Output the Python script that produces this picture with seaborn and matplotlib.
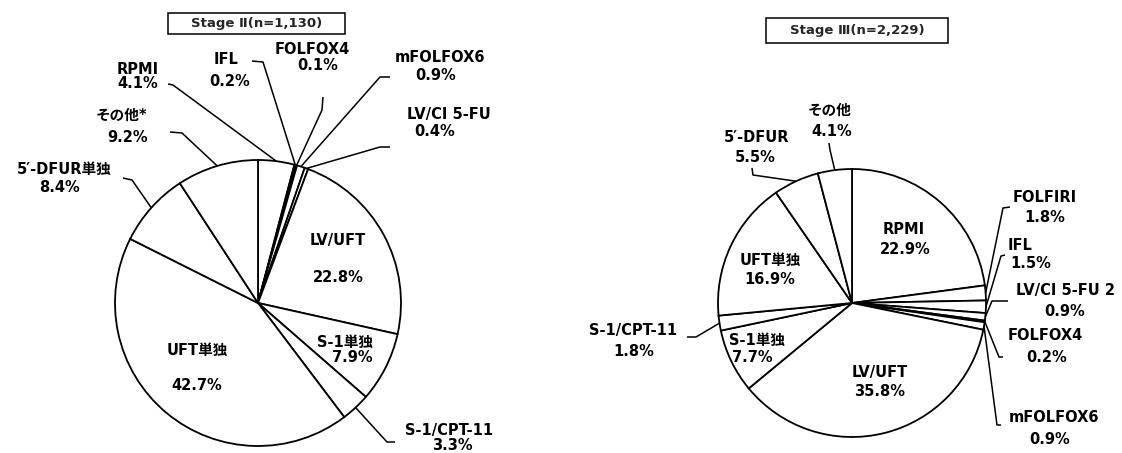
import matplotlib
matplotlib.use("Agg")
import matplotlib.pyplot as plt
from matplotlib.patches import Rectangle
import numpy as np
import pandas as pd
import seaborn as sns

# Regimen shares, listed clockwise from 12 o'clock
stage2_regimens = ["RPMI", "IFL", "FOLFOX4", "mFOLFOX6", "LV/CI 5-FU", "LV/UFT",
                   "S-1単独", "S-1/CPT-11", "UFT単独", "5′-DFUR単独", "その他*"]
stage2_pct = [4.1, 0.2, 0.1, 0.9, 0.4, 22.8, 7.9, 3.3, 42.7, 8.4, 9.2]

stage3_regimens = ["RPMI", "FOLFIRI", "IFL", "LV/CI 5-FU 2", "FOLFOX4", "mFOLFOX6",
                   "LV/UFT", "S-1単独", "S-1/CPT-11", "UFT単独", "5′-DFUR", "その他"]
stage3_pct = [22.9, 1.8, 1.5, 0.9, 0.2, 0.9, 35.8, 7.7, 1.8, 16.9, 5.5, 4.1]

panel_titles = ["Stage Ⅱ(n=1,130)", "Stage Ⅲ(n=2,229)"]

sns.set_theme(style="white")
# Latin text in DejaVu, Japanese falls through to Noto Sans CJK
plt.rcParams["font.family"] = ["DejaVu Sans", "Noto Sans CJK JP"]

W, H = 1122, 453
FS = 10.5

# Label placement in pixel space (y grows downward): centre of name line,
# centre of percentage line, and optional leader polyline start/elbow.
layout2 = {
    "RPMI":        dict(name=(138, 69), pct=(138, 83), lead=[(168, 84), (173, 85)]),
    "IFL":         dict(name=(226, 60), pct=(230, 81), lead=[(252, 61), (263, 62)]),
    "FOLFOX4":     dict(name=(312, 49), pct=(318, 66), lead=[(323, 97), (322, 110)]),
    "mFOLFOX6":    dict(name=(440, 58), pct=(436, 75), lead=[(390, 77), (380, 77)]),
    "LV/CI 5-FU":  dict(name=(449, 114), pct=(435, 131), lead=[(390, 147), (380, 147)]),
    "LV/UFT":      dict(name=(338, 240), pct=(338, 277)),
    "S-1単独":      dict(name=(345, 342), pct=(352, 357)),
    "S-1/CPT-11":  dict(name=(449, 430), pct=(452, 446), lead=[(395, 442), (387, 442)]),
    "UFT単独":      dict(name=(197, 350), pct=(197, 385)),
    "5′-DFUR単独":  dict(name=(64, 169), pct=(60, 187), lead=[(123, 178), (132, 180)]),
    "その他*":      dict(name=(121, 115), pct=(128, 137), lead=[(170, 132), (182, 133)]),
}
layout3 = {
    "RPMI":         dict(name=(904, 230), pct=(905, 250)),
    "FOLFIRI":      dict(name=(1045, 197), pct=(1045, 217), lead=[(1010, 207), (1003, 208)]),
    "IFL":          dict(name=(1020, 246), pct=(1031, 264), lead=[(1005, 255), (1001, 256)]),
    "LV/CI 5-FU 2": dict(name=(1066, 290), pct=(1065, 311), lead=[(1008, 301), (992, 301)]),
    "FOLFOX4":      dict(name=(1045, 336), pct=(1047, 357), lead=[(1003, 357), (999, 357)]),
    "mFOLFOX6":     dict(name=(1054, 418), pct=(1050, 439), lead=[(1001, 425), (997, 425)]),
    "LV/UFT":       dict(name=(880, 372), pct=(880, 392)),
    "S-1単独":       dict(name=(757, 340), pct=(752, 358)),
    "S-1/CPT-11":   dict(name=(633, 331), pct=(634, 352), lead=[(687, 337), (696, 337)]),
    "UFT単独":       dict(name=(770, 260), pct=(770, 280)),
    "5′-DFUR":      dict(name=(757, 137), pct=(755, 157), lead=[(752, 168), (753, 175)]),
    "その他":        dict(name=(830, 110), pct=(832, 131), lead=[(829, 143), (830, 150)]),
}

panels = [
    dict(df=pd.DataFrame({"regimen": stage2_regimens, "pct": stage2_pct}),
         center=(258, 303), radius=143, layout=layout2,
         title=panel_titles[0], box=(168, 13, 177, 21)),
    dict(df=pd.DataFrame({"regimen": stage3_regimens, "pct": stage3_pct}),
         center=(852, 303), radius=134, layout=layout3,
         title=panel_titles[1], box=(766, 18, 182, 25)),
]

fig = plt.figure(figsize=(W / 100, H / 100), dpi=100)
ax = fig.add_axes([0, 0, 1, 1])

text_kw = dict(fontsize=FS, fontweight="bold", ha="center", va="center", color="black")

for p in panels:
    df = p["df"]
    cx, cy = p["center"]
    r = p["radius"]
    # y axis is inverted, so counter-clockwise in data runs clockwise on screen
    wedges, _ = ax.pie(df["pct"], center=(cx, cy), radius=r, startangle=-90,
                       counterclock=True, frame=True,
                       wedgeprops=dict(facecolor="white", edgecolor="black",
                                       linewidth=1.3))
    for w, reg, val in zip(wedges, df["regimen"], df["pct"]):
        spec = p["layout"][reg]
        ax.text(*spec["name"], reg, **text_kw)
        ax.text(*spec["pct"], f"{val:.1f}%", **text_kw)
        if "lead" in spec:
            mid = np.deg2rad((w.theta1 + w.theta2) / 2)
            edge = (cx + r * np.cos(mid), cy + r * np.sin(mid))
            pts = spec["lead"] + [edge]
            xs, ys = zip(*pts)
            ax.plot(xs, ys, color="black", linewidth=1.1, solid_capstyle="butt")
    bx, by, bw, bh = p["box"]
    ax.add_patch(Rectangle((bx, by), bw, bh, facecolor="white",
                           edgecolor="black", linewidth=1.1))
    ax.text(bx + bw / 2, by + bh / 2, p["title"], fontsize=9.5,
            fontweight="bold", ha="center", va="center")

ax.set_xlim(0, W)
ax.set_ylim(H, 0)
ax.set_aspect("equal")
ax.set_axis_off()

fig.savefig("out.png", dpi=100, facecolor="white")
